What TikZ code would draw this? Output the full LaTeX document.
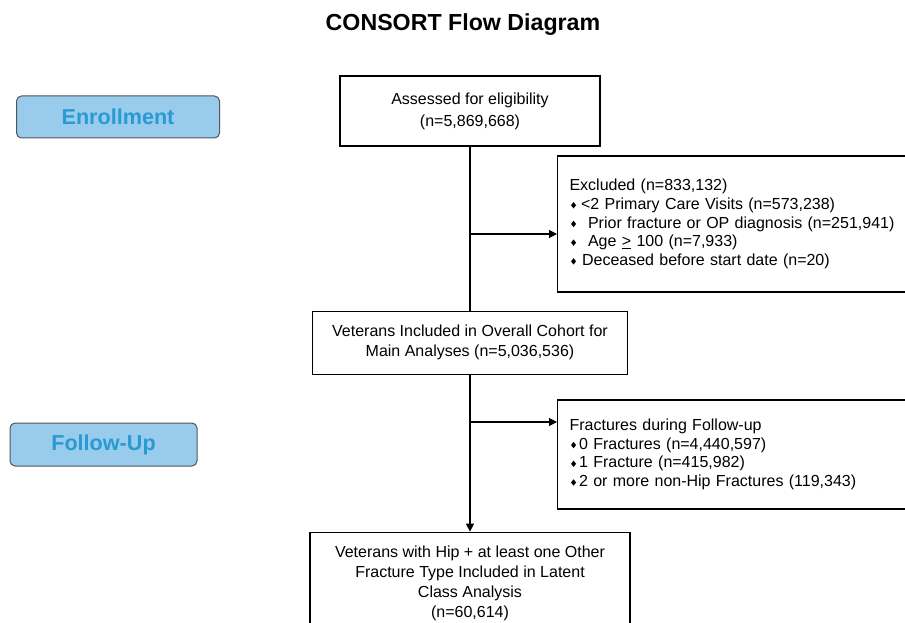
\documentclass[tikz,border=0pt]{standalone}
\usepackage{fontspec}
\setmainfont{Liberation Sans}
\usepackage{tikz}
\usetikzlibrary{arrows.meta,positioning}

\definecolor{phasefill}{HTML}{99CCEC}
\definecolor{phasetext}{HTML}{2A9AD2}
\definecolor{phaseedge}{HTML}{505559}

\newcommand{\dia}{\hspace*{1.5pt}\raisebox{1pt}{\tikz\fill (0,0)--(2.5pt,3.2pt)--(5pt,0)--(2.5pt,-3.2pt)--cycle;}}

\begin{document}
\begin{tikzpicture}[x=1pt, y=1pt,
box/.style={rectangle, draw, line width=1.1pt, minimum width=260pt, minimum height=70pt, align=center, font=\fontsize{16}{20}\selectfont},
listbox/.style={rectangle, draw, line width=1.1pt, align=left, inner xsep=12pt, text width=333pt, font=\fontsize{16}{18.7}\selectfont},
phase/.style={rectangle, draw=phaseedge, fill=phasefill, text=phasetext, rounded corners=5pt, line width=1pt, font=\fontsize{21.6}{24}\selectfont\bfseries},
arrow/.style={-{Triangle[length=8pt,width=8pt]}, line width=1.1pt}
]
\useasboundingbox (0,0) rectangle (905,-623);

% Title
\node[font=\fontsize{23.2}{27}\selectfont\bfseries] (title) at (463,-25) {CONSORT Flow Diagram};

% Phases
\node[phase, minimum width=203pt, minimum height=42pt] (enroll) at (118,-117) {Enrollment};
\node[phase, minimum width=187pt, minimum height=43pt] (follow) at (103.5,-444.5) {Follow-Up};

% Main column
\node[box, font=\fontsize{16}{22}\selectfont] (assess) at (470,-111) {Assessed for eligibility\\(n=5,869,668)};
\node[box, minimum width=315pt, minimum height=63pt, below=164pt of assess] (cohort) {Veterans Included in Overall Cohort for\\Main Analyses (n=5,036,536)};
\node[box, minimum width=320pt, minimum height=102pt, below=157pt of cohort] (final) {Veterans with Hip + at least one Other\\Fracture Type Included in Latent\\Class Analysis\\(n=60,614)};

% Side boxes
\node[listbox, minimum height=136pt, anchor=west] (excl) at (557,-224) {Excluded (n=833,132)\\
\dia\hspace{5pt}<2 Primary Care Visits (n=573,238)\\
\dia\hspace{12pt}Prior fracture or OP diagnosis (n=251,941)\\
\dia\hspace{12pt}Age \underline{>} 100 (n=7,933)\\
\dia\hspace{6pt}Deceased before start date (n=20)};
\node[listbox, minimum height=109pt, anchor=west] (fract) at (557,-454.5) {Fractures during Follow-up\\
\dia\hspace{3pt}0 Fractures (n=4,440,597)\\
\dia\hspace{3pt}1 Fracture (n=415,982)\\
\dia\hspace{3pt}2 or more non-Hip Fractures (119,343)};

% Arrows
\coordinate (b1) at (assess.south |- 0,-234);
\coordinate (b2) at (cohort.south |- 0,-422);
\draw[line width=1.1pt] (assess.south) -- (cohort.north);
\draw[arrow] (b1) -- (b1 -| excl.west);
\draw[arrow] (cohort.south) -- (final.north);
\draw[arrow] (b2) -- (b2 -| fract.west);

\end{tikzpicture}
\end{document}
